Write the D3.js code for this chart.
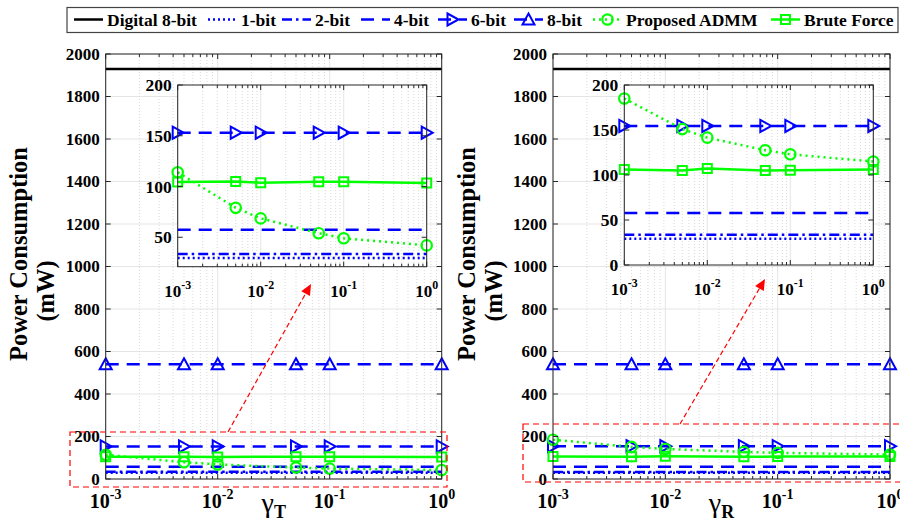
<!DOCTYPE html>
<html><head><meta charset="utf-8">
<script src="https://cdn.jsdelivr.net/npm/d3@7"></script>
<style>
body{margin:0;background:#fff}
svg{display:block}
text{font-family:"Liberation Serif","Times New Roman",serif;font-weight:bold;fill:#000}
</style>
</head><body>
<svg id="c" width="900" height="521"></svg>
<script>
// ---------------- DATA ----------------
const gammas = [0.001, 0.005, 0.01, 0.05, 0.1, 1];
const xTickExps = ["-3", "-2", "-1", "0"];
const mainYTicks = [0, 200, 400, 600, 800, 1000, 1200, 1400, 1600, 1800, 2000];
const insetYTicksT = [50, 100, 150, 200];
const insetYTicksR = [0, 50, 100, 150, 200];
const legendLabels = ["Digital 8-bit", "1-bit", "2-bit", "4-bit", "6-bit", "8-bit", "Proposed ADMM", "Brute Force"];

// left panel (gamma_T)
const digital8T = [1930, 1930, 1930, 1930, 1930, 1930];
const bit1T = [29.5, 29.5, 29.5, 29.5, 29.5, 29.5];
const bit2T = [33.6, 33.6, 33.6, 33.6, 33.6, 33.6];
const bit4T = [57.3, 57.3, 57.3, 57.3, 57.3, 57.3];
const bit6T = [153, 153, 153, 153, 153, 153];
const bit8T = [540, 540, 540, 540, 540, 540];
const admmT = [114, 79, 68.6, 54, 49, 42];
const bruteT = [104.4, 105, 103.8, 104.8, 104.8, 103.5];

// right panel (gamma_R)
const digital8R = [1930, 1930, 1930, 1930, 1930, 1930];
const bit1R = [29.3, 29.3, 29.3, 29.3, 29.3, 29.3];
const bit2R = [33.5, 33.5, 33.5, 33.5, 33.5, 33.5];
const bit4R = [57.7, 57.7, 57.7, 57.7, 57.7, 57.7];
const bit6R = [154.5, 154.5, 154.5, 154.5, 154.5, 154.5];
const bit8R = [540, 540, 540, 540, 540, 540];
const admmR = [185, 151, 141.5, 127.5, 123, 115];
const bruteR = [106, 105, 107.3, 105, 105.4, 106];

// ---------------- STYLE ----------------
const BLUE = "#0000ff", GREEN = "#00ff00", BLACK = "#000000", RED = "#ff0000";
const AX = "#262626";
const styles = {
  digital: {color: BLACK, dash: null, marker: null},
  b1: {color: BLUE, dash: "2,3", marker: null},
  b2: {color: BLUE, dash: "10,4,2.5,4", marker: null},
  b4: {color: BLUE, dash: "13,8", marker: null},
  b6: {color: BLUE, dash: "13,8", marker: "tri-right"},
  b8: {color: BLUE, dash: "13,8", marker: "tri-up"},
  admm: {color: GREEN, dash: "2,4", marker: "circle"},
  brute: {color: GREEN, dash: null, marker: "square"}
};

const svg = d3.select("#c");

function markerPath(type) {
  if (type === "tri-right") return "M-5,-6L6,0L-5,6Z";
  if (type === "tri-up") return "M0,-6L6,5L-6,5Z";
  if (type === "square") return "M-4.5,-4.5H4.5V4.5H-4.5Z";
  return null;
}

function drawMarker(g, type, x, y, color) {
  if (type === "circle") {
    g.append("circle").attr("cx", x).attr("cy", y).attr("r", 5.2)
      .attr("fill", "none").attr("stroke", color).attr("stroke-width", 2.2);
  } else {
    g.append("path").attr("d", markerPath(type)).attr("transform", `translate(${x},${y})`)
      .attr("fill", "none").attr("stroke", color).attr("stroke-width", 2);
  }
}

function powLabel(g, x, y, exp, size) {
  const t = g.append("text").attr("x", x).attr("y", y).attr("text-anchor", "middle")
    .style("font-size", size + "px");
  t.append("tspan").text("10");
  t.append("tspan").attr("dy", -size * 0.45).style("font-size", (size * 0.7) + "px").text(exp);
}

function drawAxes(g, x, y, yTicks, opts) {
  const [x0, x1] = x.range();
  const [y1, y0] = y.range();
  const decades = [1e-3, 1e-2, 1e-1, 1];
  const minors = [];
  for (let d = -3; d < 0; d++) for (let m = 2; m <= 9; m++) minors.push(m * Math.pow(10, d));
  if (opts.bg) g.append("rect").attr("x", x0).attr("y", y0).attr("width", x1 - x0).attr("height", y1 - y0).attr("fill", "#fff");
  minors.forEach(v => g.append("line").attr("x1", x(v)).attr("x2", x(v)).attr("y1", y0).attr("y2", y1)
    .attr("stroke", "#cfcfcf").attr("stroke-width", 0.8).attr("stroke-dasharray", "1,2"));
  decades.forEach(v => g.append("line").attr("x1", x(v)).attr("x2", x(v)).attr("y1", y0).attr("y2", y1)
    .attr("stroke", "#dedede").attr("stroke-width", 0.8));
  if (opts.hgrid) yTicks.forEach(v => g.append("line").attr("x1", x0).attr("x2", x1).attr("y1", y(v)).attr("y2", y(v))
    .attr("stroke", "#dedede").attr("stroke-width", 0.8));
}

function drawFrame(g, x, y, yTicks, opts) {
  const [x0, x1] = x.range();
  const [y1, y0] = y.range();
  const decades = [1e-3, 1e-2, 1e-1, 1];
  const minors = [];
  for (let d = -3; d < 0; d++) for (let m = 2; m <= 9; m++) minors.push(m * Math.pow(10, d));
  const tl = 5, tm = 3;
  const fr = g.append("g").attr("stroke", AX).attr("stroke-width", 1);
  decades.forEach(v => {
    fr.append("line").attr("x1", x(v)).attr("x2", x(v)).attr("y1", y1).attr("y2", y1 - tl);
    fr.append("line").attr("x1", x(v)).attr("x2", x(v)).attr("y1", y0).attr("y2", y0 + tl);
  });
  minors.forEach(v => {
    fr.append("line").attr("x1", x(v)).attr("x2", x(v)).attr("y1", y1).attr("y2", y1 - tm);
    fr.append("line").attr("x1", x(v)).attr("x2", x(v)).attr("y1", y0).attr("y2", y0 + tm);
  });
  yTicks.forEach(v => {
    fr.append("line").attr("x1", x0).attr("x2", x0 + tl).attr("y1", y(v)).attr("y2", y(v));
    fr.append("line").attr("x1", x1).attr("x2", x1 - tl).attr("y1", y(v)).attr("y2", y(v));
  });
  fr.append("rect").attr("x", x0).attr("y", y0).attr("width", x1 - x0).attr("height", y1 - y0).attr("fill", "none");
  yTicks.forEach(v => g.append("text").attr("x", x0 - 6).attr("y", y(v)).attr("dy", "0.35em")
    .attr("text-anchor", "end").style("font-size", opts.yfs + "px").text(v));
  decades.forEach((v, i) => powLabel(g, x(v), y1 + opts.xlabOff, xTickExps[i], opts.xfs));
}

function drawSeries(g, x, y, series) {
  const line = d3.line().x((d, i) => x(gammas[i])).y(d => y(d));
  series.forEach(s => {
    const st = styles[s.key];
    g.append("path").attr("d", line(s.vals)).attr("fill", "none").attr("stroke", st.color)
      .attr("stroke-width", 2.5).attr("stroke-dasharray", st.dash);
    if (st.marker) s.vals.forEach((v, i) => drawMarker(g, st.marker, x(gammas[i]), y(v), st.color));
  });
}

function drawPanel(cfg) {
  const g = svg.append("g");
  const x = d3.scaleLog().domain([1e-3, 1]).range([cfg.x0, cfg.x1]);
  const y = d3.scaleLinear().domain([0, 2000]).range([cfg.y1, cfg.y0]);
  drawAxes(g, x, y, mainYTicks, {hgrid: true});
  drawSeries(g, x, y, cfg.mainSeries);
  drawFrame(g, x, y, mainYTicks, {yfs: 17, xfs: 20, xlabOff: 29});
  const ins = cfg.inset;
  const xi = d3.scaleLog().domain([1e-3, 1]).range([ins.x0, ins.x1]);
  const yi = d3.scaleLinear().domain(ins.ydom).range([ins.y1, ins.y0]);
  const gi = g.append("g");
  drawAxes(gi, xi, yi, ins.yticks, {bg: true, hgrid: false});
  drawSeries(gi, xi, yi, cfg.insetSeries);
  drawFrame(gi, xi, yi, ins.yticks, {yfs: 17.5, xfs: 17, xlabOff: 30});
  // y label (two lines)
  g.append("text").attr("transform", `translate(${cfg.yl1},254) rotate(-90)`).attr("text-anchor", "middle")
    .style("font-size", "24.5px").text("Power Consumption");
  g.append("text").attr("transform", `translate(${cfg.yl2},291) rotate(-90)`).attr("text-anchor", "middle")
    .style("font-size", "24.5px").text("(mW)");
  // x label
  const cx = (cfg.x0 + cfg.x1) / 2;
  const xl = g.append("text").attr("x", cx).attr("y", 512).attr("text-anchor", "middle").style("font-size", "28px");
  xl.append("tspan").style("font-weight", "normal").text("γ");
  xl.append("tspan").attr("dy", 6).style("font-size", "18px").text(cfg.sub);
  // red box and arrow
  const b = cfg.box;
  g.append("rect").attr("x", b.x).attr("y", b.y).attr("width", b.w).attr("height", b.h)
    .attr("fill", "none").attr("stroke", RED).attr("stroke-width", 1.2).attr("stroke-dasharray", "6,4");
  const a = cfg.arrow;
  const ang = Math.atan2(a.y2 - a.y1, a.x2 - a.x1);
  const hl = 11, hw = 5;
  const bx = a.x2 - hl * Math.cos(ang), by = a.y2 - hl * Math.sin(ang);
  g.append("line").attr("x1", a.x1).attr("y1", a.y1).attr("x2", bx).attr("y2", by)
    .attr("stroke", RED).attr("stroke-width", 1.2).attr("stroke-dasharray", "5,3");
  const px = -Math.sin(ang), py = Math.cos(ang);
  g.append("path").attr("d", `M${a.x2},${a.y2}L${bx + hw * px},${by + hw * py}L${bx - hw * px},${by - hw * py}Z`)
    .attr("fill", RED);
}

function mk(d8, b1, b2, b4, b6, b8, ad, br) {
  return [
    {key: "digital", vals: d8}, {key: "b1", vals: b1}, {key: "b2", vals: b2}, {key: "b4", vals: b4},
    {key: "b6", vals: b6}, {key: "b8", vals: b8}, {key: "brute", vals: br}, {key: "admm", vals: ad}
  ];
}

drawPanel({
  x0: 105.7, x1: 441.7, y0: 54, y1: 479, sub: "T", yl1: 27, yl2: 54,
  mainSeries: mk(digital8T, bit1T, bit2T, bit4T, bit6T, bit8T, admmT, bruteT),
  insetSeries: mk(digital8T, bit1T, bit2T, bit4T, bit6T, bit8T, admmT, bruteT).filter(s => s.key !== "digital" && s.key !== "b8"),
  inset: {x0: 177.7, x1: 426.7, y0: 85, y1: 266.7, ydom: [21, 200], yticks: insetYTicksT},
  box: {x: 70, y: 432, w: 377, h: 55},
  arrow: {x1: 228, y1: 432, x2: 311, y2: 284}
});
drawPanel({
  x0: 553, x1: 890, y0: 54, y1: 479, sub: "R", yl1: 475, yl2: 502,
  mainSeries: mk(digital8R, bit1R, bit2R, bit4R, bit6R, bit8R, admmR, bruteR),
  insetSeries: mk(digital8R, bit1R, bit2R, bit4R, bit6R, bit8R, admmR, bruteR).filter(s => s.key !== "digital" && s.key !== "b8"),
  inset: {x0: 624.3, x1: 873.3, y0: 85, y1: 265, ydom: [0, 200], yticks: insetYTicksR},
  box: {x: 523, y: 424, w: 390, h: 58},
  arrow: {x1: 680, y1: 424, x2: 765, y2: 279}
});

// ---------------- LEGEND ----------------
const lg = svg.append("g");
lg.append("rect").attr("x", 67).attr("y", 7.5).attr("width", 831).attr("height", 25)
  .attr("fill", "#fff").attr("stroke", "#444").attr("stroke-width", 1.2);
const legendKeys = ["digital", "b1", "b2", "b4", "b6", "b8", "admm", "brute"];
const legendTextX = [107, 241, 315, 394, 471, 547, 626, 804];
legendKeys.forEach((k, i) => {
  const st = styles[k];
  const tx = legendTextX[i];
  const lx1 = tx - 33, lx2 = tx - 4, ly = 19.5;
  lg.append("line").attr("x1", lx1).attr("x2", lx2).attr("y1", ly).attr("y2", ly)
    .attr("stroke", st.color).attr("stroke-width", 2.5).attr("stroke-dasharray", st.dash);
  if (st.marker) drawMarker(lg, st.marker, (lx1 + lx2) / 2, ly, st.color);
  lg.append("text").attr("x", tx).attr("y", 25.5).style("font-size", "17.5px").text(legendLabels[i]);
});
</script>
</body></html>
